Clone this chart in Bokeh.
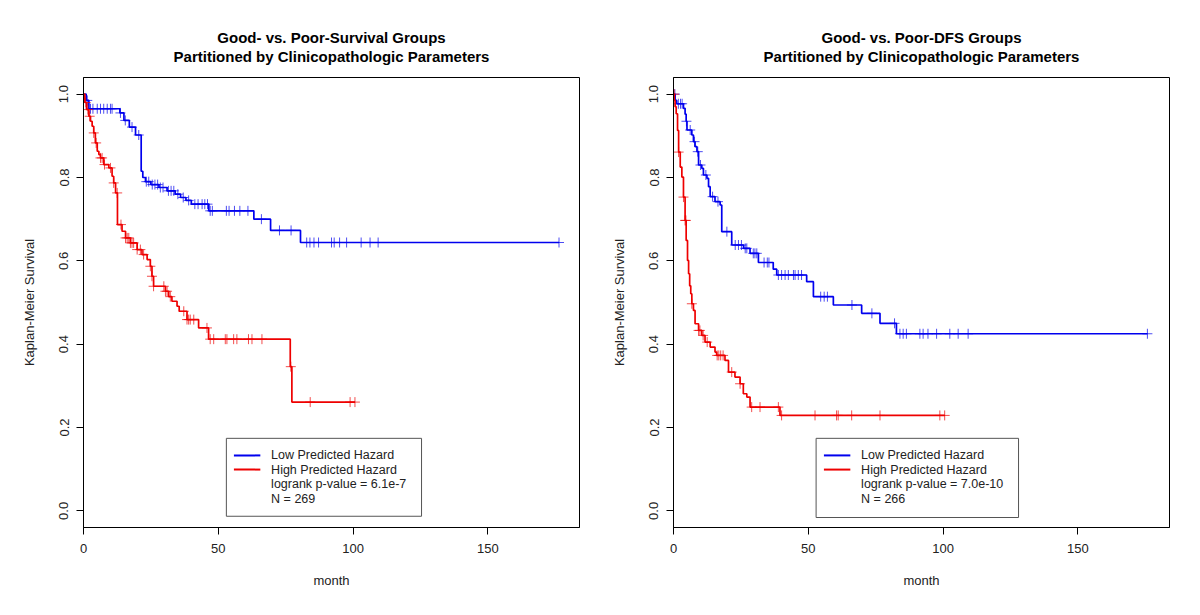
import numpy as np
from bokeh.plotting import figure
from bokeh.models import Range1d, FixedTicker, Title
from bokeh.layouts import row
from bokeh.core.properties import value
from bokeh.embed import file_html
from bokeh.resources import INLINE

# ---------------- data ----------------
titles_left = ["Good- vs. Poor-Survival Groups", "Partitioned by Clinicopathologic Parameters"]
titles_right = ["Good- vs. Poor-DFS Groups", "Partitioned by Clinicopathologic Parameters"]
x_label = "month"
y_label = "Kaplan-Meier Survival"
x_ticks = [0, 50, 100, 150]
x_tick_labels = ["0", "50", "100", "150"]
y_ticks = [0.0, 0.2, 0.4, 0.6, 0.8, 1.0]
y_tick_labels = ["0.0", "0.2", "0.4", "0.6", "0.8", "1.0"]
legend_labels = ["Low Predicted Hazard", "High Predicted Hazard"]
stats_left = ["logrank p-value = 6.1e-7", "N = 269"]
stats_right = ["logrank p-value = 7.0e-10", "N = 266"]

# Overall survival: low predicted hazard (blue)
os_low_t = [0, 1, 2, 13.5, 15, 17, 19.3, 21.4, 22, 23, 25, 28, 31, 34, 36, 38, 40,
            46.5, 63.2, 69.4, 80.5]
os_low_s = [1.0, 0.985, 0.965, 0.955, 0.937, 0.921, 0.902, 0.815, 0.80, 0.79, 0.783,
            0.776, 0.768, 0.76, 0.752, 0.745, 0.736, 0.72, 0.70, 0.673, 0.644]
os_low_cens = [1.4, 2.6, 3.5, 5.1, 6.3, 7.5, 8.8, 10, 10.6, 13.7, 15.5, 18, 20.5, 23.3,
               24.2, 25.5, 26.5, 27.5, 28.5, 29.5, 31.5, 32.5, 33.5, 35, 37, 39, 41.3,
               42.5, 44, 45, 46, 47, 47.8, 53, 54, 56, 58, 61, 66, 72.7, 77, 82.8, 84,
               85.5, 87.2, 92, 93, 95, 97.6, 103, 106.3, 109.3, 176.4]

# Overall survival: high predicted hazard (red)
os_high_t = [0, 0.5, 1.2, 2.0, 2.6, 3.2, 3.8, 4.4, 5.1, 5.7, 6.3, 7.5, 9.4, 10.6, 11.2,
             11.9, 12.6, 14.3, 15.6, 17.4, 19.9, 21.7, 23.6, 24.8, 25.4, 26.0, 30.4,
             31.6, 32.8, 34.7, 35.5, 38.4, 42.7, 46.4, 76.7, 77.3]
os_high_s = [1.0, 0.98, 0.963, 0.947, 0.935, 0.923, 0.907, 0.883, 0.863, 0.855, 0.847,
             0.831, 0.823, 0.803, 0.787, 0.763, 0.687, 0.671, 0.655, 0.643, 0.627,
             0.615, 0.603, 0.587, 0.563, 0.539, 0.527, 0.514, 0.503, 0.491, 0.479,
             0.459, 0.439, 0.412, 0.346, 0.261]
os_high_cens = [0.8, 1.6, 2.3, 3.8, 4.7, 6.3, 6.9, 7.8, 10.0, 11.2, 12.5, 13.9, 15.6,
                16.2, 16.8, 17.4, 18.0, 18.6, 19.9, 21.1, 22.3, 24.8, 25.4, 26.0, 29.8,
                30.4, 31.0, 32.2, 37.2, 38.4, 39.0, 39.6, 40.9, 45.8, 47.0, 48.3, 52.6,
                53.2, 55.7, 56.9, 61.2, 62.5, 66.2, 76.9, 84.1, 98.9, 100.7]

# Disease-free survival: low predicted hazard (blue)
dfs_low_t = [0, 0.6, 1.2, 3.7, 4.3, 4.7, 5.0, 6.8, 7.4, 8.0, 8.7, 9.3, 10.5, 11.1, 12.4,
             13.0, 13.6, 15.4, 17.3, 17.9, 21.6, 26.0, 28.4, 31.5, 37.0, 38.3, 49.4,
             51.9, 59.3, 69.8, 76.6, 82.7]
dfs_low_s = [1.0, 0.985, 0.977, 0.966, 0.952, 0.935, 0.914, 0.902, 0.886, 0.874, 0.862,
             0.830, 0.822, 0.806, 0.798, 0.778, 0.754, 0.742, 0.734, 0.670, 0.638,
             0.630, 0.618, 0.596, 0.580, 0.566, 0.550, 0.514, 0.494, 0.474, 0.450,
             0.425]
dfs_low_cens = [0.5, 1.8, 2.6, 3.2, 4.8, 6.2, 7.8, 9.0, 10.0, 12.0, 14.5, 16.5, 19.8,
                22.9, 24.1, 25.2, 26.6, 27.2, 29.6, 30.2, 30.9, 33.6, 34.8, 35.4, 38.9,
                40.1, 41.4, 42.6, 44.5, 45.1, 46.3, 47.5, 54.6, 55.9, 57.1, 66.2, 73.6,
                82.0, 84.0, 85.2, 86.4, 91.4, 92.6, 94.4, 97.6, 102.5, 105.6, 109.3,
                175.8]

# Disease-free survival: high predicted hazard (red)
dfs_high_t = [0, 0.3, 0.6, 1.0, 1.5, 1.9, 2.5, 3.1, 3.7, 4.3, 4.7, 5.2, 5.6, 6.0, 6.4,
              6.8, 7.4, 8.0, 9.3, 10.5, 11.7, 13.6, 15.4, 16.0, 19.1, 20.4, 22.8, 24.7,
              25.9, 27.2, 28.4, 39.5]
dfs_high_s = [1.0, 0.985, 0.97, 0.953, 0.913, 0.861, 0.825, 0.801, 0.753, 0.697, 0.649,
              0.601, 0.569, 0.540, 0.521, 0.497, 0.481, 0.449, 0.433, 0.421, 0.405,
              0.393, 0.381, 0.373, 0.361, 0.333, 0.321, 0.305, 0.281, 0.273, 0.249,
              0.229]
dfs_high_cens = [0.25, 1.9, 3.7, 4.3, 4.6, 6.8, 9.3, 9.8, 11.0, 12.5, 16.2, 16.8, 17.5,
                 18.4, 21.6, 24.7, 29.0, 32.1, 38.9, 40.1, 52.5, 60.5, 61.1, 66.1, 76.6,
                 98.8, 100.6]

BLUE = "#0000ee"
RED = "#ee0000"
FONT = "Liberation Sans"
TEXT_COL = "#222222"


def step_value(times, surv, at):
    t = np.asarray(times, dtype=float)
    s = np.asarray(surv, dtype=float)
    idx = np.searchsorted(t, np.asarray(at, dtype=float), side="right") - 1
    idx = np.clip(idx, 0, len(s) - 1)
    return s[idx]


def km_curve(p, times, surv, cens, color):
    end = max(max(cens), times[-1])
    xs = list(times) + [end]
    ys = list(surv) + [surv[-1]]
    p.step(xs, ys, mode="after", line_color=color, line_width=1.7)
    p.scatter(cens, step_value(times, surv, cens), marker="cross", size=10,
              line_color=color, line_alpha=0.7, line_width=1)


def make_panel(titles, low, high, stats, box):
    p = figure(width=590, height=599, x_range=Range1d(0, 184),
               y_range=Range1d(-0.04, 1.04), output_backend="svg",
               toolbar_location=None, title=None,
               min_border_left=83, min_border_right=11,
               min_border_top=77, min_border_bottom=72)
    p.background_fill_color = "white"
    p.border_fill_color = "white"
    p.outline_line_color = "black"
    p.outline_line_width = 1
    p.grid.visible = False

    # spacer nearest the frame, then second title line, then first line on top
    p.add_layout(Title(text=" ", text_font=FONT, text_font_size="10px",
                       standoff=0), "above")
    for txt in reversed(titles):
        p.add_layout(Title(text=txt, align="center", text_font=FONT,
                           text_font_size="15px", text_font_style="bold",
                           text_color="black", standoff=0), "above")

    xa, ya = p.xaxis[0], p.yaxis[0]
    xa.ticker = FixedTicker(ticks=x_ticks)
    xa.major_label_overrides = {t: l for t, l in zip(x_ticks, x_tick_labels)}
    ya.ticker = FixedTicker(ticks=y_ticks)
    ya.major_label_overrides = {t: l for t, l in zip(y_ticks, y_tick_labels)}
    ya.major_label_orientation = "vertical"
    for ax in (xa, ya):
        ax.minor_tick_line_color = None
        ax.major_tick_in = 0
        ax.major_tick_out = 7
        ax.major_tick_line_color = "black"
        ax.axis_line_color = "black"
        ax.major_label_text_font = FONT
        ax.major_label_text_font_size = "13px"
        ax.major_label_text_color = TEXT_COL
        ax.axis_label_text_font = FONT
        ax.axis_label_text_font_size = "13px"
        ax.axis_label_text_font_style = "normal"
        ax.axis_label_text_color = TEXT_COL
    xa.axis_label = x_label
    ya.axis_label = y_label
    xa.major_label_standoff = 9
    ya.major_label_standoff = 8
    xa.axis_label_standoff = 17
    ya.axis_label_standoff = 20

    km_curve(p, *low, BLUE)
    km_curve(p, *high, RED)

    # legend box
    left, right, top, bottom = box
    p.quad(left=[left], right=[right], top=[top], bottom=[bottom],
           fill_color="white", line_color="#555555", line_width=1)
    rows_y = [0.133, 0.099, 0.065, 0.029]
    p.segment(x0=[55.8, 55.8], x1=[65.6, 65.6], y0=rows_y[:2], y1=rows_y[:2],
              line_color=[BLUE, RED], line_width=2)
    p.text(x=[69.6] * 4, y=rows_y, text=legend_labels + stats,
           text_font=value(FONT), text_font_size="12.5px",
           text_color=TEXT_COL, text_baseline="middle", text_align="left")
    return p


p1 = make_panel(titles_left, (os_low_t, os_low_s, os_low_cens),
                (os_high_t, os_high_s, os_high_cens), stats_left,
                (53.0, 125.4, 0.174, -0.013))
p2 = make_panel(titles_right, (dfs_low_t, dfs_low_s, dfs_low_cens),
                (dfs_high_t, dfs_high_s, dfs_high_cens), stats_right,
                (52.9, 128.0, 0.174, -0.016))

layout = row(p1, p2)
open("out.html", "w").write(file_html(layout, INLINE))
